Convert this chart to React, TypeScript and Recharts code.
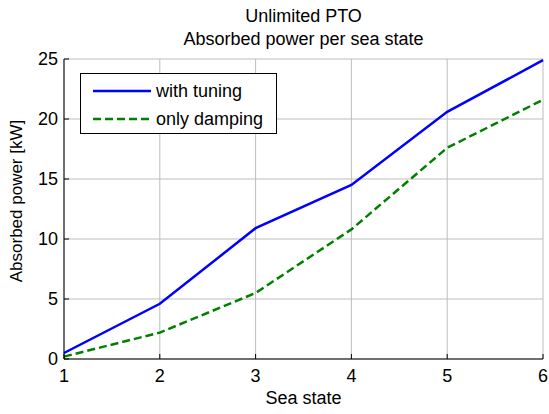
import React from "react";
import { CartesianGrid, ComposedChart, Line, XAxis, YAxis } from "recharts";

const seaStates = [1, 2, 3, 4, 5, 6];
const withTuning = [0.5, 4.6, 10.9, 14.5, 20.6, 24.9];
const onlyDamping = [0.2, 2.2, 5.5, 10.8, 17.6, 21.6];
const yTicks = [0, 5, 10, 15, 20, 25];

const data = seaStates.map((s, i) => ({
  state: s,
  tuning: withTuning[i],
  damping: onlyDamping[i],
}));

const FONT = '"Liberation Sans", Arial, sans-serif';
const FS = 18;
const TICK_LEN = 5;

// bottom axis: label + inward tick mark (axis sits tickMargin above props.y)
function BottomTick({ x, y, payload }: any) {
  const axisY = y - 8;
  return (
    <g>
      <line x1={x} y1={axisY} x2={x} y2={axisY - TICK_LEN} stroke="#000" />
      <text x={x} y={axisY + 23} textAnchor="middle" fontSize={FS} fontFamily={FONT} fill="#000">
        {payload.value}
      </text>
    </g>
  );
}

function LeftTick({ x, y, payload }: any) {
  const axisX = x + 7;
  return (
    <g>
      <line x1={axisX} y1={y} x2={axisX + TICK_LEN} y2={y} stroke="#000" />
      <text x={axisX - 6} y={y + 6} textAnchor="end" fontSize={FS} fontFamily={FONT} fill="#000">
        {payload.value}
      </text>
    </g>
  );
}

function TopTick({ x, y }: any) {
  return <line x1={x} y1={y} x2={x} y2={y + TICK_LEN} stroke="#000" />;
}

function RightTick({ x, y }: any) {
  return <line x1={x} y1={y} x2={x - TICK_LEN} y2={y} stroke="#000" />;
}

function LegendBox() {
  return (
    <div
      style={{
        position: "absolute",
        left: 80,
        top: 73,
        width: 195,
        height: 59,
        border: "1px solid #000",
        background: "#fff",
      }}
    >
      <svg width={195} height={59} style={{ position: "absolute", left: 0, top: 0 }}>
        <line x1={12} y1={17} x2={70} y2={17} stroke="#0000ff" strokeWidth={2.5} />
        <line x1={12} y1={45} x2={70} y2={45} stroke="#008000" strokeWidth={2.5} strokeDasharray="8 4" />
        <text x={75} y={23} fontSize={FS} fontFamily={FONT} fill="#000">with tuning</text>
        <text x={75} y={51} fontSize={FS} fontFamily={FONT} fill="#000">only damping</text>
      </svg>
    </div>
  );
}

export default function App() {
  return (
    <div
      style={{
        position: "absolute",
        left: 0,
        top: 0,
        width: 549,
        height: 414,
        background: "#fff",
        fontFamily: FONT,
        color: "#000",
      }}
    >
      <ComposedChart width={549} height={414} data={data} margin={{ top: 59, right: 6, bottom: 0, left: 0 }}>
        <CartesianGrid stroke="#bdbdbd" strokeWidth={1} />
        <XAxis
          dataKey="state"
          type="number"
          domain={[1, 6]}
          ticks={seaStates}
          height={55}
          tickSize={0}
          tickMargin={8}
          tick={<BottomTick />}
          axisLine={{ stroke: "#000" }}
          tickLine={false}
        />
        <XAxis
          xAxisId="top"
          orientation="top"
          dataKey="state"
          type="number"
          domain={[1, 6]}
          ticks={seaStates}
          height={0}
          tickSize={0}
          tickMargin={0}
          tick={<TopTick />}
          axisLine={{ stroke: "#000" }}
          tickLine={false}
        />
        <YAxis
          type="number"
          domain={[0, 25]}
          ticks={yTicks}
          width={64}
          tickSize={0}
          tickMargin={7}
          tick={<LeftTick />}
          axisLine={{ stroke: "#000" }}
          tickLine={false}
        />
        <YAxis
          yAxisId="right"
          orientation="right"
          type="number"
          domain={[0, 25]}
          ticks={yTicks}
          width={0}
          tickSize={0}
          tickMargin={0}
          tick={<RightTick />}
          axisLine={{ stroke: "#000" }}
          tickLine={false}
        />
        <Line
          dataKey="damping"
          type="linear"
          stroke="#008000"
          strokeWidth={2.5}
          strokeDasharray="8 4"
          dot={false}
          isAnimationActive={false}
        />
        <Line
          dataKey="tuning"
          type="linear"
          stroke="#0000ff"
          strokeWidth={2.5}
          dot={false}
          isAnimationActive={false}
        />
      </ComposedChart>

      <div style={{ position: "absolute", left: 64, width: 479, top: 5, textAlign: "center", fontSize: FS, lineHeight: "23px" }}>
        Unlimited PTO
        <br />
        Absorbed power per sea state
      </div>
      <div style={{ position: "absolute", left: 64, width: 479, top: 388, textAlign: "center", fontSize: FS, lineHeight: "20px" }}>
        Sea state
      </div>
      <div
        style={{
          position: "absolute",
          left: 17 - 120,
          top: 201 - 10,
          width: 240,
          textAlign: "center",
          fontSize: 17,
          lineHeight: "20px",
          transform: "rotate(-90deg)",
        }}
      >
        Absorbed power [kW]
      </div>
      <LegendBox />
    </div>
  );
}
